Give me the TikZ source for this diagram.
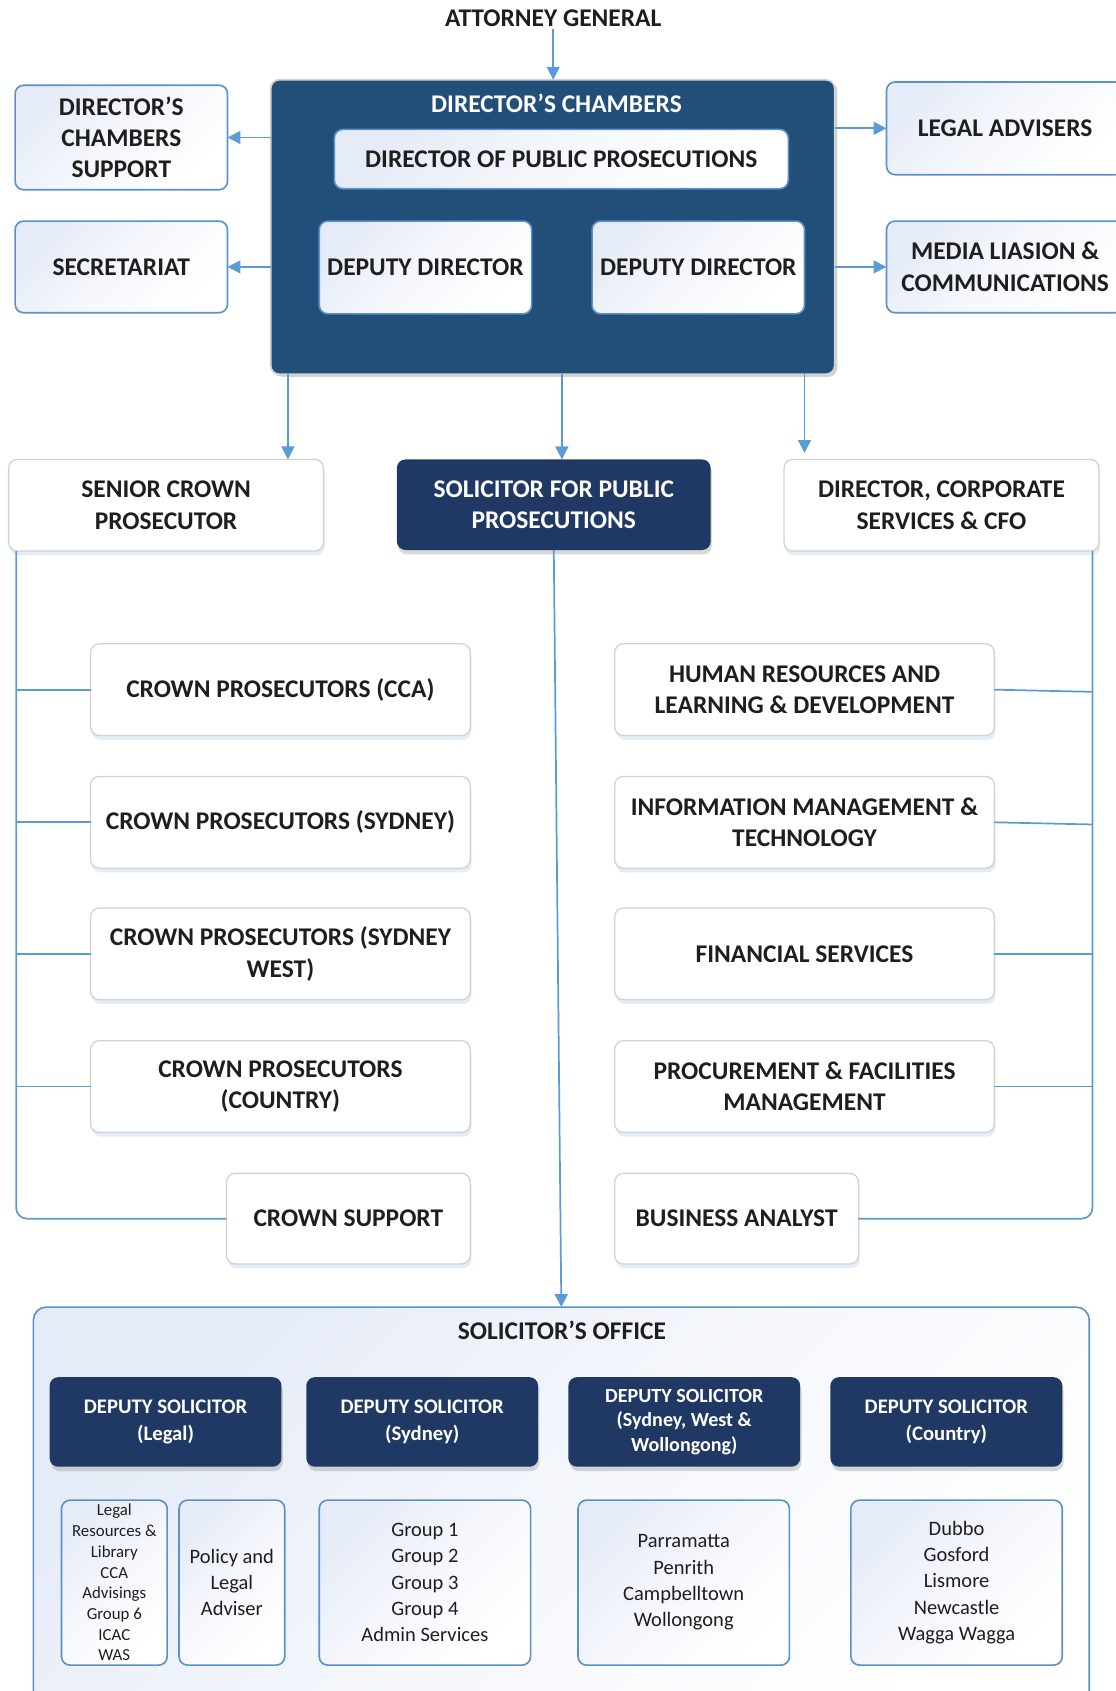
\documentclass[tikz,border=0pt]{standalone}
\usepackage{fontspec}
\setmainfont{Carlito}
\usetikzlibrary{shadows,arrows.meta,calc}
\definecolor{dblue}{HTML}{224E7A}
\definecolor{navy}{HTML}{203864}
\definecolor{lineblue}{HTML}{5B9BD5}
\definecolor{bordblue}{HTML}{5A90CC}
\definecolor{txt}{HTML}{1E1E1E}
\definecolor{lightfill}{HTML}{E6ECF7}
\definecolor{graybord}{HTML}{D2D2D2}
\begin{document}
\begin{tikzpicture}[x=0.5pt,y=-0.5pt,
  corners/.style n args={4}{minimum width={(#3-#1)*0.5pt}, minimum height={(#4-#2)*0.5pt}, at={({(#1+#3)/2},{(#2+#4)/2})}},
  base/.style={inner sep=0pt, outer sep=0pt, align=center, rounded corners=4pt},
  hfont/.style={font=\fontsize{11.8}{14.5}\selectfont\bfseries},
  dsfont/.style={font=\fontsize{9.6}{12.5}\selectfont\bfseries},
  gfont/.style={font=\fontsize{9.5}{12.2}\selectfont},
  sfont/.style={font=\fontsize{7.8}{9.6}\selectfont},
  lightbox/.style={base, draw=bordblue, line width=0.75pt, top color=lightfill, bottom color=white, middle color=lightfill!40!white, shading angle=45, text=txt},
  whitebox/.style={base, hfont, draw=graybord, fill=white, line width=0.6pt, text=txt,
    drop shadow={shadow xshift=0.6pt, shadow yshift=-2pt, fill=lineblue, opacity=0.18}},
  navybox/.style={base, fill=navy, text=white,
    drop shadow={shadow xshift=0.6pt, shadow yshift=-2pt, fill=gray, opacity=0.3}},
  bigbox/.style={base, fill=dblue, draw=gray!35, line width=0.8pt,
    drop shadow={shadow xshift=1.2pt, shadow yshift=-1.2pt, fill=gray, opacity=0.35}},
  conn/.style={draw=lineblue, line width=0.8pt},
  arr/.style={conn, -{Triangle[length=6pt,width=6pt]}}
]
\useasboundingbox (0,0) rectangle (1034,1568);

% top
\node[hfont, text=txt, inner sep=1pt] (ag) at (513,17) {ATTORNEY GENERAL};
\node[bigbox, corners={251}{74}{774}{347}] (dc) {};
\node[hfont, text=white] (dct) at (516,96) {DIRECTOR’S CHAMBERS};
\node[lightbox, hfont, corners={310}{120}{731}{175}] (dpp) {DIRECTOR OF PUBLIC PROSECUTIONS};
\node[lightbox, hfont, corners={296}{205}{493}{291}] (dd1) {DEPUTY DIRECTOR};
\node[lightbox, hfont, corners={549}{205}{746}{291}] (dd2) {DEPUTY DIRECTOR};

\node[lightbox, hfont, corners={14}{79}{211}{176}] (dcs) {DIRECTOR’S\\CHAMBERS\\SUPPORT};
\node[lightbox, hfont, corners={14}{205}{211}{290}] (sec) {SECRETARIAT};
\node[lightbox, hfont, corners={822}{76}{1042}{162}] (la) {LEGAL ADVISERS};
\node[lightbox, hfont, corners={822}{205}{1042}{290}] (ml) {MEDIA LIASION \&\\COMMUNICATIONS};

\draw[arr] (ag.south) -- (ag.south |- dc.north);
\draw[arr] (dc.west |- dcs.east) -- (dcs.east);
\draw[arr] (dc.west |- sec.east) -- (sec.east);
\draw[arr] (dc.east |- la.west) -- (la.west);
\draw[arr] (dc.east |- ml.west) -- (ml.west);

% second row
\node[whitebox, corners={8}{426}{300}{511}] (scp) {SENIOR CROWN\\PROSECUTOR};
\node[navybox, hfont, corners={368}{426}{659}{510}] (spp) {SOLICITOR FOR PUBLIC\\PROSECUTIONS};
\node[whitebox, corners={727}{426}{1019}{511}] (dcorp) {DIRECTOR, CORPORATE\\SERVICES \& CFO};

\coordinate (a1) at ([xshift=8pt]dc.south west);
\coordinate (a2) at ([xshift=4.25pt]dc.south);
\coordinate (a3) at ([xshift=-14pt]dc.south east);
\draw[arr] (a1) -- (a1 |- scp.north);
\draw[arr] (a2) -- (a2 |- spp.north);
\draw[arr] (a3) -- ([yshift=3pt]a3 |- dcorp.north);

% crown column
\node[whitebox, corners={84}{597}{436}{682}] (cp1) {CROWN PROSECUTORS (CCA)};
\node[whitebox, corners={84}{720}{436}{805}] (cp2) {CROWN PROSECUTORS (SYDNEY)};
\node[whitebox, corners={84}{842}{436}{927}] (cp3) {CROWN PROSECUTORS (SYDNEY\\WEST)};
\node[whitebox, corners={84}{965}{436}{1050}] (cp4) {CROWN PROSECUTORS\\(COUNTRY)};
\node[whitebox, corners={210}{1088}{436}{1172}] (cs) {CROWN SUPPORT};

% corporate column
\node[whitebox, corners={570}{597}{922}{682}] (hr) {HUMAN RESOURCES AND\\LEARNING \& DEVELOPMENT};
\node[whitebox, corners={570}{720}{922}{805}] (im) {INFORMATION MANAGEMENT \&\\TECHNOLOGY};
\node[whitebox, corners={570}{842}{922}{927}] (fs) {FINANCIAL SERVICES};
\node[whitebox, corners={570}{965}{922}{1050}] (pf) {PROCUREMENT \& FACILITIES\\MANAGEMENT};
\node[whitebox, corners={570}{1088}{796}{1172}] (ba) {BUSINESS ANALYST};

\coordinate (Lx) at ([xshift=3.5pt]scp.south west);
\coordinate (Rx) at ([xshift=-3pt]dcorp.south east);
\draw[conn, rounded corners=5pt] (Lx) |- (cs.west);
\draw[conn, rounded corners=5pt] (Rx) |- (ba.east);
\foreach \n in {cp1,cp2,cp3,cp4} \draw[conn] (\n.west) -- (Lx |- \n.west);
\draw[conn] (hr.east) -- ([yshift=-1pt]Rx |- hr.east);
\draw[conn] (im.east) -- ([yshift=-1pt]Rx |- im.east);
\draw[conn] (fs.east) -- (Rx |- fs.east);
\draw[conn] (pf.east) -- (Rx |- pf.east);

% solicitor's office
\node[lightbox, rounded corners=6pt, corners={31}{1212}{1010}{1620}] (so) {};
\draw[arr] (spp.south) -- (so.north);
\node[hfont, text=txt] (sot) at (521,1234) {SOLICITOR’S OFFICE};

\node[navybox, dsfont, corners={46}{1277}{261}{1360}] (ds1) {DEPUTY SOLICITOR\\(Legal)};
\node[navybox, dsfont, corners={284}{1277}{499}{1360}] (ds2) {DEPUTY SOLICITOR\\(Sydney)};
\node[navybox, font=\fontsize{9.3}{11.3}\selectfont\bfseries, corners={527}{1277}{742}{1360}] (ds3) {DEPUTY SOLICITOR\\(Sydney, West \&\\Wollongong)};
\node[navybox, dsfont, corners={770}{1277}{985}{1360}] (ds4) {DEPUTY SOLICITOR\\(Country)};

\node[lightbox, sfont, corners={57}{1391}{155}{1544}] (lr) {Legal\\Resources \&\\Library\\CCA\\Advisings\\Group 6\\ICAC\\WAS};
\node[lightbox, gfont, corners={166}{1391}{264}{1544}] (pl) {Policy and\\Legal\\Adviser};
\node[lightbox, gfont, corners={296}{1391}{492}{1544}] (gr) {Group 1\\Group 2\\Group 3\\Group 4\\Admin Services};
\node[lightbox, gfont, corners={536}{1391}{732}{1544}] (pa) {Parramatta\\Penrith\\Campbelltown\\Wollongong};
\node[lightbox, gfont, corners={789}{1391}{985}{1544}] (du) {Dubbo\\Gosford\\Lismore\\Newcastle\\Wagga Wagga};
\end{tikzpicture}
\end{document}
